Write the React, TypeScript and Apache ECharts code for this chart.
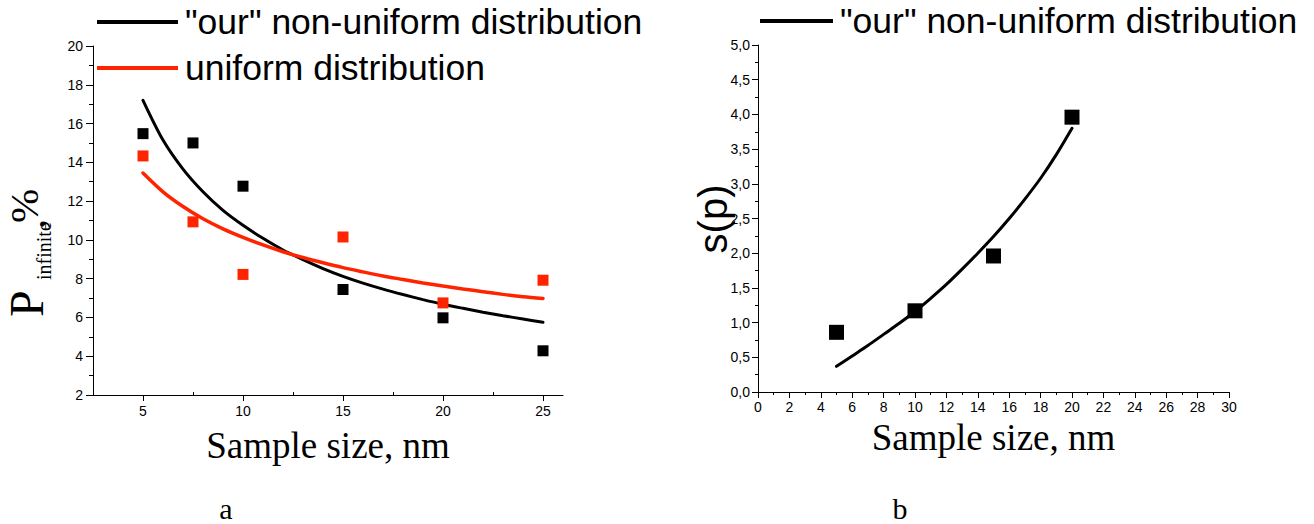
import React, { useEffect, useRef } from "react";
import * as echarts from "echarts";

// ---- Panel a ----
const sizesA = [5, 7.5, 10, 15, 20, 25];
const ourPointsA = [15.48, 15.0, 12.77, 7.44, 5.98, 4.28];
const uniformPointsA = [14.33, 10.93, 8.22, 10.15, 6.75, 7.92];
const fitXA = [5, 6, 7, 8, 9, 10, 11, 12, 13, 14, 15, 16, 17, 18, 19, 20, 21, 22, 23, 24, 25];
const ourFitA = [17.2, 15.15, 13.65, 12.48, 11.52, 10.75, 10.08, 9.48, 8.98, 8.52, 8.12, 7.77, 7.46, 7.18, 6.92, 6.68, 6.47, 6.27, 6.09, 5.92, 5.75];
const uniformFitA = [13.45, 12.48, 11.72, 11.09, 10.57, 10.13, 9.74, 9.39, 9.09, 8.82, 8.57, 8.35, 8.14, 7.96, 7.78, 7.62, 7.47, 7.33, 7.19, 7.07, 6.98];
const xLabelsA = [5, 10, 15, 20, 25];
const xMinorA = [7.5, 12.5, 17.5, 22.5];

// ---- Panel b ----
const sizesB = [5, 10, 15, 20];
const spB = [0.86, 1.17, 1.96, 3.96];
const fitXB = [5, 6, 7, 8, 9, 10, 11, 12, 13, 14, 15, 16, 17, 18, 19, 20];
const fitB = [0.37, 0.52, 0.67, 0.83, 0.99, 1.16, 1.35, 1.55, 1.77, 2.0, 2.24, 2.5, 2.78, 3.08, 3.42, 3.8];

const legendOur = '"our" non-uniform distribution';
const legendUniform = "uniform distribution";
const xTitle = "Sample size, nm";

const SANS = "'Liberation Sans', Arial, sans-serif";
const SERIF = "'Liberation Serif', 'Times New Roman', serif";
const RED = "#ff2400";

const pairs = (xs: number[], ys: number[]) => xs.map((x, i) => [x, ys[i]]);

export default function App() {
  const ref = useRef<HTMLDivElement>(null);
  useEffect(() => {
    if (!ref.current) return;
    const chart = echarts.init(ref.current, null, { renderer: "svg" });
    const axisLine = { show: true, lineStyle: { color: "#000", width: 1 } };
    const label = { color: "#000", fontFamily: SANS, fontSize: 14, margin: 9 };
    const fitLine = (xi: number, yi: number, data: number[][], color: string, width: number) => ({
      type: "line",
      xAxisIndex: xi,
      yAxisIndex: yi,
      data,
      smooth: 0.3,
      showSymbol: false,
      symbol: "none",
      lineStyle: { color, width, cap: "round" },
      z: 2,
    });
    const dots = (xi: number, yi: number, data: number[][], color: string, size: number) => ({
      type: "scatter",
      xAxisIndex: xi,
      yAxisIndex: yi,
      data,
      symbol: "rect",
      symbolSize: size,
      itemStyle: { color, opacity: 1 },
      z: 3,
    });
    const option: any = {
      animation: false,
      backgroundColor: "#fff",
      grid: [
        { left: 93, top: 46, width: 470, height: 349 },
        { left: 758, top: 45, width: 471, height: 347 },
      ],
      xAxis: [
        {
          gridIndex: 0,
          type: "value",
          min: 2.5,
          max: 26,
          axisLine,
          axisTick: { show: true, customValues: xLabelsA, length: 6, lineStyle: { color: "#000" } },
          axisLabel: { ...label, customValues: xLabelsA },
          splitLine: { show: false },
          name: xTitle,
          nameLocation: "middle",
          nameGap: 32,
          nameTextStyle: { fontFamily: SERIF, fontSize: 37, color: "#000" },
        },
        {
          gridIndex: 0,
          type: "value",
          min: 2.5,
          max: 26,
          position: "bottom",
          axisLine: { show: false },
          axisTick: { show: true, customValues: xMinorA, inside: true, length: 3, lineStyle: { color: "#000" } },
          axisLabel: { show: false },
          splitLine: { show: false },
        },
        {
          gridIndex: 1,
          type: "value",
          min: 0,
          max: 30,
          interval: 2,
          axisLine,
          axisTick: { show: true, length: 6, lineStyle: { color: "#000" } },
          minorTick: { show: true, splitNumber: 2, length: 3, lineStyle: { color: "#000" } },
          axisLabel: { ...label, margin: 8 },
          splitLine: { show: false },
          name: xTitle,
          nameLocation: "middle",
          nameGap: 20,
          nameTextStyle: { fontFamily: SERIF, fontSize: 37, color: "#000" },
        },
      ],
      yAxis: [
        {
          gridIndex: 0,
          type: "value",
          min: 2,
          max: 20,
          interval: 2,
          axisLine,
          axisTick: { show: true, length: 7, lineStyle: { color: "#000" } },
          minorTick: { show: true, splitNumber: 2, length: 4, lineStyle: { color: "#000" } },
          axisLabel: { ...label, margin: 10 },
          splitLine: { show: false },
        },
        {
          gridIndex: 1,
          type: "value",
          min: 0,
          max: 5,
          interval: 0.5,
          axisLine,
          axisTick: { show: true, length: 6, lineStyle: { color: "#000" } },
          minorTick: { show: true, splitNumber: 2, length: 3, lineStyle: { color: "#000" } },
          axisLabel: {
            ...label,
            margin: 8,
            formatter: (v: number) => v.toFixed(1).replace(".", ","),
          },
          splitLine: { show: false },
        },
      ],
      series: [
        fitLine(0, 0, pairs(fitXA, ourFitA), "#000", 3),
        fitLine(0, 0, pairs(fitXA, uniformFitA), RED, 3.5),
        dots(0, 0, pairs(sizesA, ourPointsA), "#000", 11),
        dots(0, 0, pairs(sizesA, uniformPointsA), RED, 11),
        fitLine(2, 1, pairs(fitXB, fitB), "#000", 3),
        dots(2, 1, pairs(sizesB, spB), "#000", 15),
      ],
      graphic: [
        // legend a
        { type: "line", shape: { x1: 97, y1: 22, x2: 178, y2: 22 }, style: { stroke: "#000", lineWidth: 4 } },
        {
          type: "text",
          x: 185,
          y: 22,
          style: { text: legendOur, fontFamily: SANS, fontSize: 35.5, fill: "#000", align: "left", verticalAlign: "middle" },
        },
        { type: "line", shape: { x1: 97, y1: 68, x2: 178, y2: 68 }, style: { stroke: RED, lineWidth: 4 } },
        {
          type: "text",
          x: 185,
          y: 68,
          style: { text: legendUniform, fontFamily: SANS, fontSize: 35.5, fill: "#000", align: "left", verticalAlign: "middle" },
        },
        // legend b
        { type: "line", shape: { x1: 760, y1: 21, x2: 833, y2: 21 }, style: { stroke: "#000", lineWidth: 4 } },
        {
          type: "text",
          x: 840,
          y: 21,
          style: { text: legendOur, fontFamily: SANS, fontSize: 35.5, fill: "#000", align: "left", verticalAlign: "middle" },
        },
        // y title a: P_infinite, %
        {
          type: "text",
          x: 26,
          y: 317,
          rotation: Math.PI / 2,
          style: { text: "P", fontFamily: SERIF, fontSize: 48, fill: "#000", align: "left", verticalAlign: "middle" },
        },
        {
          type: "text",
          x: 44,
          y: 280,
          rotation: Math.PI / 2,
          style: { text: "infinite", fontFamily: SERIF, fontSize: 20, fill: "#000", align: "left", verticalAlign: "middle" },
        },
        {
          type: "text",
          x: 30,
          y: 229,
          rotation: Math.PI / 2,
          style: { text: ",", fontFamily: SERIF, fontSize: 40, fill: "#000", align: "left", verticalAlign: "middle" },
        },
        {
          type: "text",
          x: 24,
          y: 223,
          rotation: Math.PI / 2,
          style: { text: "%", fontFamily: SERIF, fontSize: 41, fill: "#000", align: "left", verticalAlign: "middle" },
        },
        // y title b
        {
          type: "text",
          x: 713,
          y: 219,
          rotation: Math.PI / 2,
          style: { text: "s(p)", fontFamily: SANS, fontSize: 40, fill: "#000", align: "center", verticalAlign: "middle" },
        },
        // panel letters
        {
          type: "text",
          x: 226,
          y: 508,
          style: { text: "a", fontFamily: SERIF, fontSize: 30, fill: "#000", align: "center", verticalAlign: "middle" },
        },
        {
          type: "text",
          x: 900,
          y: 508,
          style: { text: "b", fontFamily: SERIF, fontSize: 30, fill: "#000", align: "center", verticalAlign: "middle" },
        },
      ],
    };
    chart.setOption(option);
    return () => chart.dispose();
  }, []);
  return (
    <div
      ref={ref}
      style={{ position: "absolute", left: 0, top: 0, width: 1314, height: 524, background: "#fff" }}
    />
  );
}
